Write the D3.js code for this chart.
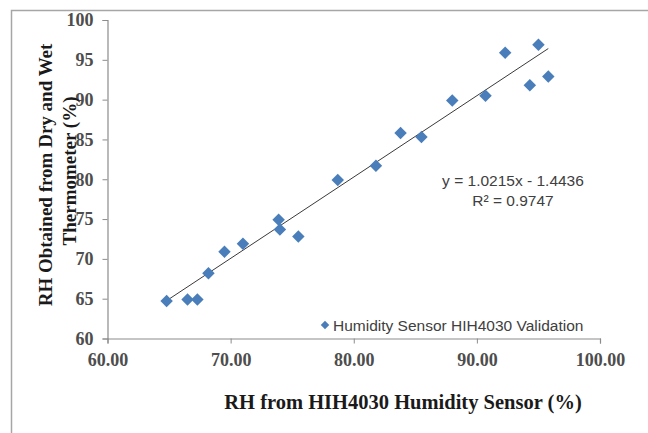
<!DOCTYPE html>
<html>
<head>
<meta charset="utf-8">
<script src="https://cdn.jsdelivr.net/npm/d3@7"></script>
<style>
  body { margin: 0; background: #fff; }
  svg { display: block; }
</style>
</head>
<body>
<div id="chart"></div>
<script>
// sensor reading vs. dry/wet thermometer reading (%)
const sensorRH = [64.8, 66.5, 67.3, 68.2, 69.5, 71.0, 73.9, 74.0, 75.5, 78.7,
                  81.8, 83.8, 85.5, 88.0, 90.7, 92.3, 94.3, 95.0, 95.8];
const thermoRH = [64.7, 64.9, 64.9, 68.2, 70.9, 71.9, 74.9, 73.7, 72.8, 79.9,
                  81.7, 85.8, 85.3, 89.9, 90.5, 95.9, 91.8, 96.9, 92.9];
const xTicks = [60, 70, 80, 90, 100];
const yTicks = [60, 65, 70, 75, 80, 85, 90, 95, 100];
const slope = 1.0215, intercept = -1.4436, r2 = 0.9747;

const points = sensorRH.map((x, i) => ({ x: x, y: thermoRH[i] }));

const width = 648, height = 433;
const svg = d3.select("#chart").append("svg")
    .attr("width", width)
    .attr("height", height);

// outer chart frame (only top and left edges visible)
svg.append("path")
    .attr("d", "M11.5," + height + "V10.5H" + width)
    .attr("fill", "none")
    .attr("stroke", "#a6a6a6")
    .attr("stroke-width", 1.5);

const x = d3.scaleLinear().domain([60, 100]).range([107.5, 600]);
const y = d3.scaleLinear().domain([60, 100]).range([338.5, 20]);

// y axis
const yAxis = svg.append("g")
    .attr("transform", "translate(107.5,0)")
    .call(d3.axisLeft(y).tickValues(yTicks).tickSize(5).tickPadding(9).tickFormat(d3.format("d")));
// x axis
const xAxis = svg.append("g")
    .attr("transform", "translate(0,338.5)")
    .call(d3.axisBottom(x).tickValues(xTicks).tickSize(5).tickPadding(9).tickFormat(d3.format(".2f")));

[yAxis, xAxis].forEach(g => {
    g.select(".domain").attr("stroke", "#8c8c8c").attr("stroke-width", 1.2);
    g.selectAll(".tick line").attr("stroke", "#8c8c8c");
    g.selectAll(".tick text")
        .attr("fill", "#4d4d4d")
        .style("font-family", "'Liberation Serif', 'Times New Roman', serif")
        .style("font-size", "18px")
        .style("font-weight", "bold");
});
xAxis.selectAll(".tick text").attr("dy", "0.75em");

// trendline over the data range
const xr = d3.extent(sensorRH);
svg.append("line")
    .attr("x1", x(xr[0])).attr("y1", y(slope * xr[0] + intercept))
    .attr("x2", x(xr[1])).attr("y2", y(slope * xr[1] + intercept))
    .attr("stroke", "#3a3a3a")
    .attr("stroke-width", 1);

// markers (diamonds)
const diamond = d3.symbol().type(d3.symbolSquare).size(78);
svg.selectAll(".pt")
    .data(points)
    .enter()
    .append("path")
    .attr("class", "pt")
    .attr("d", diamond)
    .attr("transform", d => `translate(${x(d.x)},${y(d.y)}) rotate(45)`)
    .attr("fill", "#4a7ebb");

// regression label
const eq = svg.append("text")
    .attr("x", 513).attr("y", 186)
    .attr("text-anchor", "middle")
    .attr("fill", "#404040")
    .style("font-family", "'Liberation Sans', Arial, sans-serif")
    .style("font-size", "15.5px");
eq.append("tspan").text(`y = ${slope}x - ${Math.abs(intercept)}`);
eq.append("tspan").attr("x", 513).attr("dy", 20).text(`R² = ${r2}`);

// legend
const legend = svg.append("g").attr("transform", "translate(325,325)");
legend.append("path")
    .attr("d", d3.symbol().type(d3.symbolSquare).size(36))
    .attr("transform", "rotate(45)")
    .attr("fill", "#4a7ebb");
legend.append("text")
    .attr("x", 8).attr("y", 5.5)
    .attr("fill", "#404040")
    .style("font-family", "'Liberation Sans', Arial, sans-serif")
    .style("font-size", "15.5px")
    .text("Humidity Sensor HIH4030 Validation");

// axis titles
svg.append("text")
    .attr("x", 403).attr("y", 409)
    .attr("text-anchor", "middle")
    .attr("fill", "#1a1a1a")
    .style("font-family", "'Liberation Serif', 'Times New Roman', serif")
    .style("font-size", "20.5px")
    .style("font-weight", "bold")
    .text("RH from HIH4030 Humidity Sensor (%)");

const yTitle = svg.append("text")
    .attr("transform", "translate(52,175) rotate(-90)")
    .attr("text-anchor", "middle")
    .attr("fill", "#1a1a1a")
    .style("font-family", "'Liberation Serif', 'Times New Roman', serif")
    .style("font-size", "19px")
    .style("font-weight", "bold");
yTitle.append("tspan").attr("x", 0).attr("y", 0).text("RH Obtained from Dry and Wet");
yTitle.append("tspan").attr("x", 4).attr("y", 24).text("Thermometer (%)");
</script>
</body>
</html>
